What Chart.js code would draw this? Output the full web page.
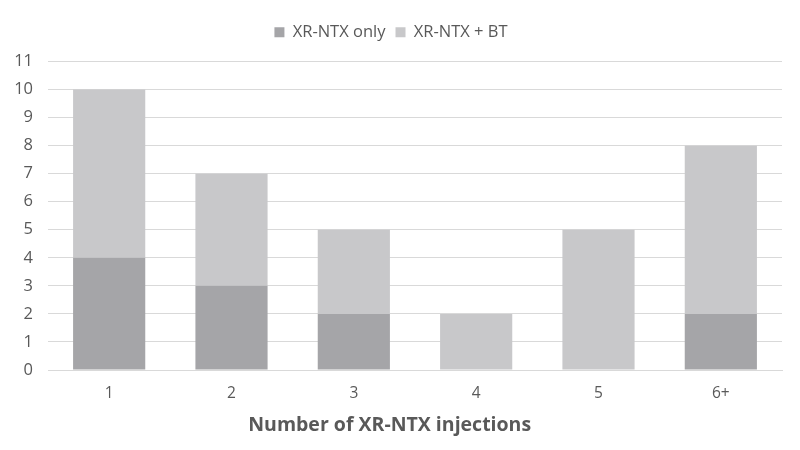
<!DOCTYPE html>
<html>
<head>
<meta charset="utf-8">
<script src="https://cdn.jsdelivr.net/npm/chart.js@4.4.0/dist/chart.umd.min.js"></script>
<style>
html,body{margin:0;padding:0;background:#fff;}
#wrap{width:800px;height:450px;position:relative;}
</style>
</head>
<body>
<div id="wrap"><canvas id="c" width="800" height="450"></canvas></div>
<script>
const categories = ["1", "2", "3", "4", "5", "6+"];
const xrOnly = [4, 3, 2, 0, 0, 2];
const xrBT = [6, 4, 3, 2, 5, 6];
const yTicks = [0,1,2,3,4,5,6,7,8,9,10,11];

const textColor = '#595959';
const fontFam = "'Open Sans', 'Liberation Sans', sans-serif";

const legendMargin = {
  id: 'legendMargin',
  beforeInit(chart) {
    const orig = chart.legend.fit;
    chart.legend.fit = function () { orig.call(this); this.height += 11; };
  }
};

new Chart(document.getElementById('c'), {
  type: 'bar',
  plugins: [legendMargin],
  data: {
    labels: categories,
    datasets: [
      {label: 'XR-NTX only', data: xrOnly, backgroundColor: '#a5a5a8', borderWidth: 0},
      {label: 'XR-NTX + BT', data: xrBT, backgroundColor: '#c8c8ca', borderWidth: 0}
    ]
  },
  options: {
    responsive: false,
    animation: false,
    layout: {padding: {left: 0, right: 18, top: 14, bottom: 13}},
    datasets: {bar: {categoryPercentage: 1, barPercentage: 0.59}},
    plugins: {
      legend: {
        position: 'top',
        labels: {boxWidth: 10, boxHeight: 10, color: textColor, font: {family: fontFam, size: 16.5}, padding: 10}
      },
      tooltip: {enabled: false}
    },
    scales: {
      x: {
        stacked: true,
        afterFit: s => { s.height = 67; },
        grid: {display: false, drawTicks: false},
        border: {display: true, color: '#d9d9d9', width: 1},
        ticks: {color: textColor, font: {family: fontFam, size: 15.5}, padding: 14},
        title: {display: true, text: 'Number of XR-NTX injections' + '\u0020'.repeat(10), color: textColor, font: {family: fontFam, size: 19.5, weight: 'bold'}, padding: {top: 4, bottom: 0}}
      },
      y: {
        stacked: true,
        min: 0, max: 11,
        afterBuildTicks: s => { s.ticks = yTicks.map(v => ({value: v})); },
        afterFit: s => { s.width = 48; },
        grid: {color: '#d9d9d9', lineWidth: 1, drawTicks: false},
        border: {display: false},
        ticks: {color: textColor, font: {family: fontFam, size: 16.5}, padding: 15}
      }
    }
  }
});
</script>
</body>
</html>
